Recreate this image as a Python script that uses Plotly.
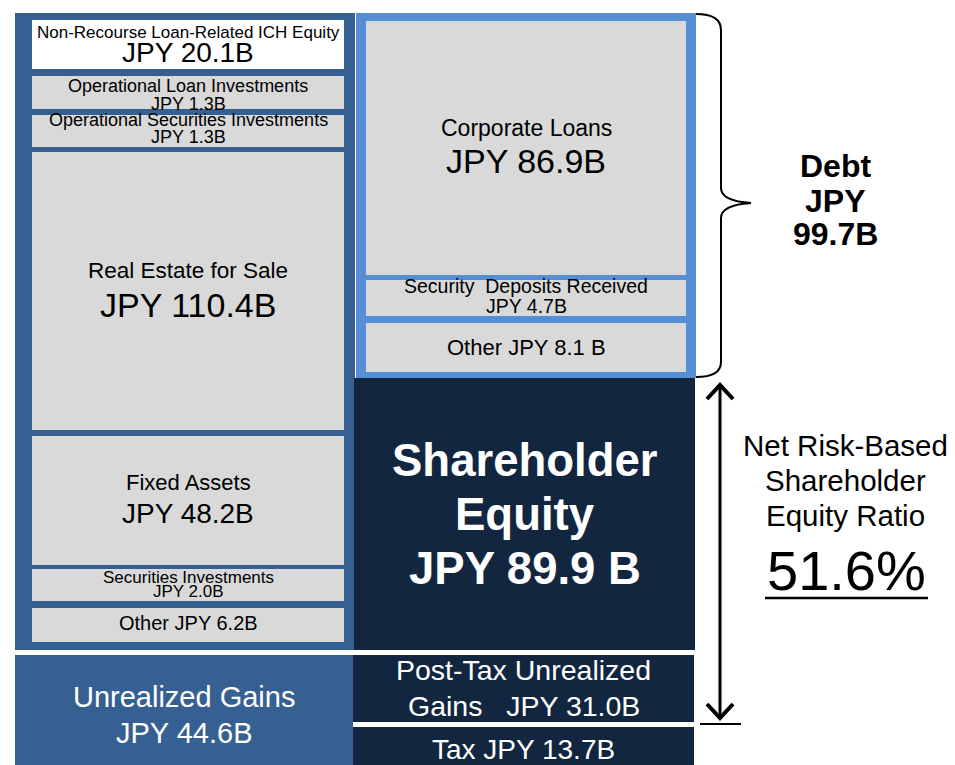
import plotly.graph_objects as go

# ---------------- data (JPY billions) ----------------
asset_names = ["Non-Recourse Loan-Related ICH Equity", "Operational Loan Investments",
               "Operational Securities Investments", "Real Estate for Sale", "Fixed Assets",
               "Securities Investments", "Other"]
asset_values = [20.1, 1.3, 1.3, 110.4, 48.2, 2.0, 6.2]

debt_names = ["Corporate Loans", "Security\u00a0 Deposits Received", "Other"]
debt_values = [86.9, 4.7, 8.1]
debt_total = 99.7

equity_value = 89.9
unrealized_gains = 44.6
post_tax_gains = 31.0
tax_value = 13.7
equity_ratio = 51.6

# ---------------- layout / style (pixel geometry of the diagram) ----------------
FONT = "Liberation Sans, Arial, sans-serif"
C_LEFT = "#376092"
C_DEBT = "#558ED5"
C_NAVY = "#12263F"
C_GRAY = "#D9D9D9"

left_frame = (15, 13, 355, 650)
left_inner_x = (32, 344)
asset_boxes = [(20, 69), (76, 109), (115, 147), (152, 430), (436, 565), (569, 601), (608, 642)]
asset_fills = ["#FFFFFF"] + [C_GRAY] * 6
asset_text = [
    [("{name}", 38, 17), ("JPY {v}B", 62, 28)],
    [("{name}", 92, 18), ("JPY {v}B", 110, 18)],
    [("{name}", 126, 18), ("JPY {v}B", 143, 18)],
    [("{name}", 278, 22.5), ("JPY {v}B", 317, 34)],
    [("{name}", 490, 22), ("JPY {v}B", 523, 28)],
    [("{name}", 583, 17), ("JPY {v}B", 597, 17)],
    [("{name} JPY {v}B", 630, 20)],
]

debt_frame = (356, 13, 696, 378)
debt_inner_x = (366, 686)
debt_boxes = [(21, 275), (280, 316), (323, 372)]
debt_text = [
    [("{name}", 136, 23), ("JPY {v}B", 173, 34)],
    [("{name}", 293, 19.5), ("JPY {v}B", 313, 19.5)],
    [("{name} JPY {v} B", 355, 22)],
]

equity_box = (354, 378, 695, 650)
unreal_box = (15, 655, 353, 765)
posttax_box = (353, 655, 694, 722)
tax_box = (353, 727, 694, 765)


def fmt(v):
    return f"{v:.1f}"


shapes = []
annotations = []


def rect(x0, y0, x1, y1, fill):
    shapes.append(dict(type="rect", xref="x", yref="y", x0=x0, y0=y0, x1=x1, y1=y1,
                       fillcolor=fill, line=dict(width=0), layer="below"))


def text(s, x, baseline, size, color="black", bold=False):
    if bold:
        s = f"<b>{s}</b>"
    annotations.append(dict(text=s, x=x, y=baseline - 0.3465 * size, xref="x", yref="y",
                            showarrow=False, xanchor="center", yanchor="middle",
                            font=dict(family=FONT, size=size, color=color)))


# left column (assets)
rect(*left_frame, C_LEFT)
lx = (left_inner_x[0] + left_inner_x[1]) / 2
for name, v, (y0, y1), fill, lines in zip(asset_names, asset_values, asset_boxes, asset_fills, asset_text):
    rect(left_inner_x[0], y0, left_inner_x[1], y1, fill)
    for tmpl, base, size in lines:
        text(tmpl.format(name=name, v=fmt(v)), lx, base, size)

# right column (debt)
rect(*debt_frame, C_DEBT)
rx = (debt_inner_x[0] + debt_inner_x[1]) / 2
for name, v, (y0, y1), lines in zip(debt_names, debt_values, debt_boxes, debt_text):
    rect(debt_inner_x[0], y0, debt_inner_x[1], y1, C_GRAY)
    for tmpl, base, size in lines:
        text(tmpl.format(name=name, v=fmt(v)), rx, base, size)

# equity
rect(*equity_box, C_NAVY)
ex = (equity_box[0] + equity_box[2]) / 2
for s, base in zip(["Shareholder", "Equity", f"JPY {fmt(equity_value)} B"], [476, 530, 584]):
    text(s, ex, base, 45.5, "white", bold=True)

# unrealized gains
rect(*unreal_box, C_LEFT)
ux = (unreal_box[0] + unreal_box[2]) / 2
text("Unrealized Gains", ux, 707, 29, "white")
text(f"JPY {fmt(unrealized_gains)}B", ux, 743, 29, "white")

rect(*posttax_box, C_NAVY)
px = (posttax_box[0] + posttax_box[2]) / 2
text("Post-Tax Unrealized", px, 680, 28.5, "white")
text(f"Gains\u00a0\u00a0 JPY {fmt(post_tax_gains)}B", px, 716, 28.5, "white")

rect(*tax_box, C_NAVY)
text(f"Tax JPY {fmt(tax_value)}B", px, 759, 28, "white")

# brace for debt
shapes.append(dict(type="path", xref="x", yref="y",
                   path="M 696,14 Q 721,14 721,30 L 721,188 Q 721,201 751,203 "
                        "Q 721,205 721,218 L 721,362 Q 721,377 696,377",
                   line=dict(color="black", width=2)))
for s, base in zip(["Debt", "JPY", f"{fmt(debt_total)}B"], [177, 212, 245]):
    text(s, 835, base, 32, bold=True)

# double arrow for equity ratio
shapes.append(dict(type="line", xref="x", yref="y", x0=720, y0=385, x1=720, y1=718,
                   line=dict(color="black", width=3)))
shapes.append(dict(type="path", xref="x", yref="y", path="M 707,399 L 720,385 L 733,399",
                   line=dict(color="black", width=4)))
shapes.append(dict(type="path", xref="x", yref="y", path="M 707,704 L 720,718 L 733,704",
                   line=dict(color="black", width=4)))
shapes.append(dict(type="line", xref="x", yref="y", x0=700, y0=724, x1=741, y1=724,
                   line=dict(color="black", width=2)))

for s, base in zip(["Net Risk-Based", "Shareholder", "Equity Ratio"], [456, 491, 526]):
    text(s, 845, base, 29.5)
text(f"{fmt(equity_ratio)}%", 846, 590, 56)
shapes.append(dict(type="line", xref="x", yref="y", x0=765, y0=598, x1=928, y1=598,
                   line=dict(color="black", width=2.5)))

fig = go.Figure()
fig.add_trace(go.Scatter(x=[], y=[], showlegend=False, hoverinfo="skip"))
fig.update_layout(
    width=955, height=765,
    margin=dict(l=0, r=0, t=0, b=0),
    paper_bgcolor="white", plot_bgcolor="white",
    xaxis=dict(range=[0, 955], visible=False, fixedrange=True),
    yaxis=dict(range=[765, 0], visible=False, fixedrange=True),
    shapes=shapes, annotations=annotations,
    showlegend=False,
)
fig.write_html("out.html", config=dict(displayModeBar=False),
               post_script="document.body.style.margin='0';document.body.style.overflow='hidden';")
